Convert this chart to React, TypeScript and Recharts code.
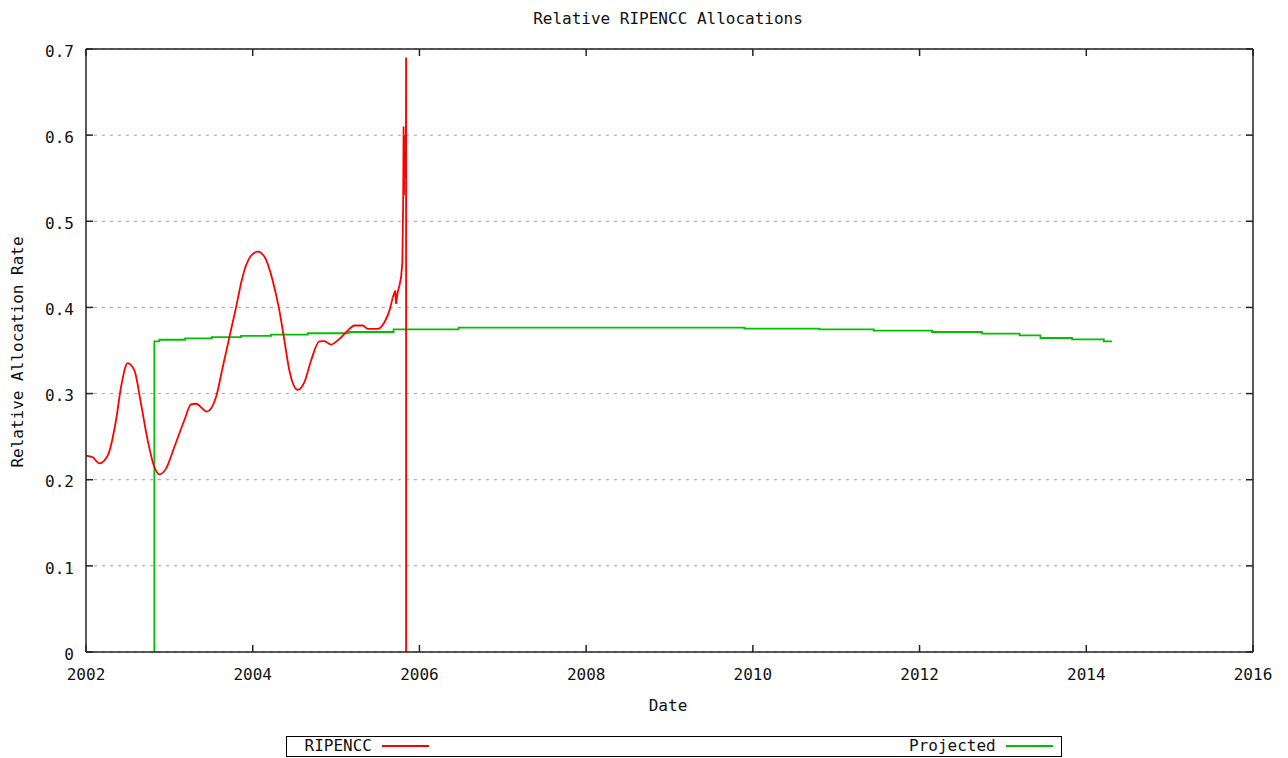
import React from "react";
import { ComposedChart, Line, XAxis, YAxis, CartesianGrid } from "recharts";

const chartTitle = "Relative RIPENCC Allocations";
const xAxisLabel = "Date";
const yAxisLabel = "Relative Allocation Rate";
const seriesNames = ["RIPENCC", "Projected"];
const seriesColors = ["#ff0000", "#00c000"];
const xTicks = [2002, 2004, 2006, 2008, 2010, 2012, 2014, 2016];
const yTicks = [0, 0.1, 0.2, 0.3, 0.4, 0.5, 0.6, 0.7];

const ripenccYears = [
  2002.0, 2002.08, 2002.16, 2002.26, 2002.36, 2002.42, 2002.5, 2002.58, 2002.66, 2002.74,
  2002.82, 2002.88, 2002.96, 2003.06, 2003.18, 2003.26, 2003.32, 2003.45, 2003.56, 2003.64,
  2003.72, 2003.8, 2003.86, 2003.92, 2003.98, 2004.06, 2004.14, 2004.24, 2004.32, 2004.38, 2004.44,
  2004.54, 2004.62, 2004.7, 2004.8, 2004.86, 2004.94, 2005.04, 2005.16, 2005.22, 2005.32,
  2005.38, 2005.5, 2005.58, 2005.64, 2005.68,
];
const ripenccValues = [
  0.228, 0.226, 0.219, 0.228, 0.269, 0.3075, 0.3353, 0.3268, 0.2882, 0.2457,
  0.2148, 0.2063, 0.2129, 0.238, 0.269, 0.2874, 0.2882, 0.279, 0.2959, 0.3306,
  0.3654, 0.4, 0.428, 0.449, 0.46, 0.4647, 0.459, 0.431, 0.3963, 0.3616, 0.3268,
  0.3044, 0.3133, 0.3384, 0.3605, 0.3608, 0.3569, 0.3635, 0.3751, 0.379, 0.379,
  0.3751, 0.3751, 0.3828, 0.3963, 0.4117,
];
const ripenccTailYears = [
  2005.68, 2005.71, 2005.72, 2005.74, 2005.76, 2005.78, 2005.795, 2005.8, 2005.805,
  2005.81, 2005.815, 2005.82, 2005.825, 2005.838, 2005.84, 2005.84,
];
const ripenccTailValues = [
  0.4117, 0.4195, 0.404, 0.418, 0.4253, 0.435, 0.4523, 0.489, 0.52,
  0.61, 0.53, 0.6, 0.55, 0.594, 0.69, 0,
];

const projectedYears = [
  2002.82, 2002.82, 2002.88, 2003.19, 2003.51, 2003.86, 2004.22, 2004.66, 2005.15, 2005.69,
  2006.47, 2009.9, 2010.8, 2011.45, 2012.15, 2012.75, 2013.2, 2013.45, 2013.83, 2014.21, 2014.31,
];
const projectedValues = [
  0, 0.3605, 0.3625, 0.364, 0.3655, 0.367, 0.3685, 0.37, 0.3715, 0.3745,
  0.3765, 0.3755, 0.3745, 0.373, 0.3715, 0.3695, 0.3675, 0.3645, 0.363, 0.3605, 0.3605,
];

const ripenccData = ripenccYears.map((x, i) => ({ x, y: ripenccValues[i] }));
const ripenccTailData = ripenccTailYears.map((x, i) => ({ x, y: ripenccTailValues[i] }));
const projectedData = projectedYears.map((x, i) => ({ x, y: projectedValues[i] }));

const FONT = "'DejaVu Sans Mono', monospace";
const FS = 16;
const TICK_LEN = 7;
const BOTTOM_GAP = 17;
const LEFT_GAP = 12;
const AXIS_COLOR = "#222";
const TEXT_COLOR = "#111";

const BottomTick = (props: any) => {
  const { x, y, payload } = props;
  const axisY = y - BOTTOM_GAP;
  return (
    <g>
      <line x1={x} x2={x} y1={axisY} y2={axisY - TICK_LEN} stroke={AXIS_COLOR} strokeWidth={1.5} />
      <text x={x} y={y} dy="0.71em" textAnchor="middle" fontFamily={FONT} fontSize={FS} fill={TEXT_COLOR}>
        {payload.value}
      </text>
    </g>
  );
};

const TopTick = (props: any) => {
  const { x, y } = props;
  return <line x1={x} x2={x} y1={y} y2={y + TICK_LEN} stroke={AXIS_COLOR} strokeWidth={1.5} />;
};

const fmtY = (v: number) => (v === 0 ? "0" : v.toFixed(1));

const LeftTick = (props: any) => {
  const { x, y, payload } = props;
  const axisX = x + LEFT_GAP;
  return (
    <g>
      <line x1={axisX} x2={axisX + TICK_LEN} y1={y} y2={y} stroke={AXIS_COLOR} strokeWidth={1.5} />
      <text x={x} y={y + 2} dy="0.355em" textAnchor="end" fontFamily={FONT} fontSize={FS} fill={TEXT_COLOR}>
        {fmtY(payload.value)}
      </text>
    </g>
  );
};

const RightTick = (props: any) => {
  const { x, y } = props;
  return <line x1={x} x2={x - TICK_LEN} y1={y} y2={y} stroke={AXIS_COLOR} strokeWidth={1.5} />;
};

const textStyle: React.CSSProperties = {
  position: "absolute",
  fontFamily: FONT,
  fontSize: FS,
  lineHeight: "16px",
  color: TEXT_COLOR,
  whiteSpace: "nowrap",
};

export default function App() {
  return (
    <div style={{ position: "absolute", left: 0, top: 0, width: 1288, height: 758, background: "#fff" }}>
      <ComposedChart
        width={1288}
        height={758}
        margin={{ top: 48, right: 34, bottom: 76, left: 0 }}
      >
        <CartesianGrid
          vertical={false}
          stroke="#a0a0a0"
          strokeDasharray="3 5"
          strokeWidth={1}
        />
        <XAxis
          type="number"
          dataKey="x"
          domain={[2002, 2016]}
          ticks={xTicks}
          interval={0}
          allowDataOverflow
          height={30}
          tickSize={0}
          tickMargin={BOTTOM_GAP}
          tick={<BottomTick />}
          axisLine={{ stroke: AXIS_COLOR, strokeWidth: 1.5 }}
          tickLine={false}
        />
        <XAxis
          xAxisId="top"
          orientation="top"
          type="number"
          dataKey="x"
          domain={[2002, 2016]}
          ticks={xTicks}
          interval={0}
          allowDataOverflow
          height={1}
          tickSize={0}
          tickMargin={0}
          tick={<TopTick />}
          axisLine={{ stroke: AXIS_COLOR, strokeWidth: 1.5 }}
          tickLine={false}
        />
        <YAxis
          type="number"
          domain={[0, 0.7]}
          ticks={yTicks}
          interval={0}
          allowDataOverflow
          width={86}
          tickSize={0}
          tickMargin={LEFT_GAP}
          tick={<LeftTick />}
          axisLine={{ stroke: AXIS_COLOR, strokeWidth: 1.5 }}
          tickLine={false}
        />
        <YAxis
          yAxisId="right"
          orientation="right"
          type="number"
          domain={[0, 0.7]}
          ticks={yTicks}
          interval={0}
          allowDataOverflow
          width={1}
          tickSize={0}
          tickMargin={0}
          tick={<RightTick />}
          axisLine={{ stroke: AXIS_COLOR, strokeWidth: 1.5 }}
          tickLine={false}
        />
        <Line
          data={projectedData}
          xAxisId="top"
          yAxisId="right"
          dataKey="y"
          type="stepAfter"
          stroke={seriesColors[1]}
          strokeWidth={1.8}
          dot={false}
          activeDot={false}
          isAnimationActive={false}
          name={seriesNames[1]}
        />
        <Line
          data={ripenccData}
          dataKey="y"
          type="monotone"
          stroke={seriesColors[0]}
          strokeWidth={1.8}
          dot={false}
          activeDot={false}
          isAnimationActive={false}
          name={seriesNames[0]}
        />
        <Line
          data={ripenccTailData}
          dataKey="y"
          type="linear"
          stroke={seriesColors[0]}
          strokeWidth={1.8}
          dot={false}
          activeDot={false}
          isAnimationActive={false}
          legendType="none"
        />
      </ComposedChart>

      <div style={{ ...textStyle, left: 468, top: 10.5, width: 400, textAlign: "center" }}>{chartTitle}</div>
      <div style={{ ...textStyle, left: 468, top: 698, width: 400, textAlign: "center" }}>{xAxisLabel}</div>
      <div
        style={{
          ...textStyle,
          left: 17.5 - 130,
          top: 352 - 8,
          width: 260,
          height: 16,
          textAlign: "center",
          transform: "rotate(-90deg)",
        }}
      >
        {yAxisLabel}
      </div>

      <div
        style={{
          position: "absolute",
          left: 286,
          top: 736,
          width: 776,
          height: 21,
          border: "1px solid #000",
          boxSizing: "border-box",
        }}
      >
        <span style={{ ...textStyle, left: 17.5, top: 1.3 }}>{seriesNames[0]}</span>
        <div style={{ position: "absolute", left: 95, top: 8, width: 47, height: 1.5, background: seriesColors[0] }} />
        <span style={{ ...textStyle, left: 622, top: 1.3 }}>{seriesNames[1]}</span>
        <div style={{ position: "absolute", left: 719, top: 8, width: 47, height: 1.5, background: seriesColors[1] }} />
      </div>
    </div>
  );
}
